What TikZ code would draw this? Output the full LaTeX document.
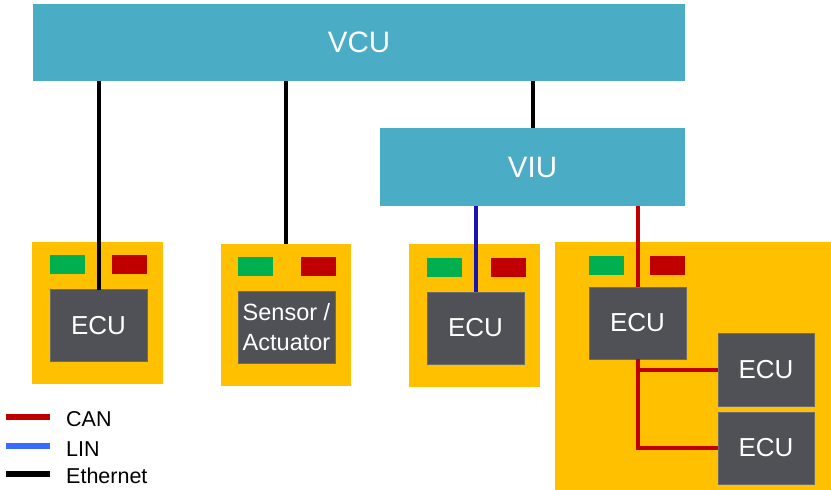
\documentclass[tikz,border=0pt]{standalone}
\usepackage{fontspec}
\setmainfont{Liberation Sans}
\usepackage{xcolor}
\usetikzlibrary{positioning}

\definecolor{unitblue}{HTML}{4BACC6}
\definecolor{domyellow}{HTML}{FFC000}
\definecolor{ecugrey}{HTML}{505156}
\definecolor{portgreen}{HTML}{00B050}
\definecolor{portred}{HTML}{C00000}
\definecolor{canred}{HTML}{C00000}
\definecolor{linblue}{HTML}{1A12B4}
\definecolor{linlegend}{HTML}{3A6BFF}

\begin{document}
\begin{tikzpicture}[
  x=1pt, y=-1pt,
  unit/.style={fill=unitblue, inner sep=0pt, outer sep=0pt, text=white, font=\fontsize{29.5}{34}\selectfont},
  dom/.style={fill=domyellow, inner sep=0pt, outer sep=0pt},
  ecu/.style={fill=ecugrey, draw=ecugrey!85!white, line width=0.6pt, inner sep=0pt, outer sep=0pt,
    minimum width=97pt, minimum height=72pt, text=white, align=center, font=\fontsize{26}{31}\selectfont},
  port/.style={inner sep=0pt, outer sep=0pt, minimum width=35pt, minimum height=19pt},
  eth/.style={line width=4pt, black},
  can/.style={line width=4pt, canred},
  lin/.style={line width=4pt, linblue},
  lgd/.style={font=\fontsize{21.5}{25}\selectfont, anchor=base west, inner sep=0pt}
]
\useasboundingbox (0,0) rectangle (831,490);

% control units
\node[unit, minimum width=652pt, minimum height=77pt] (vcu) at (359,42.5) {VCU};
\node[unit, minimum width=305pt, minimum height=78pt] (viu) at (532.5,167) {VIU};

% domains
\node[dom, minimum width=131pt, minimum height=142pt] (doma) at (97.5,313) {};
\node[dom, minimum width=130pt, minimum height=142pt] (domb) at (286,315) {};
\node[dom, minimum width=131pt, minimum height=143pt] (domc) at (474.5,315.5) {};
\node[dom, minimum width=276pt, minimum height=248pt] (domd) at (693,366) {};

% ports
\node[port, fill=portgreen] (grna) at (67.5,264.5) {};
\node[port, fill=portred] (reda) at (129.5,264.5) {};
\node[port, fill=portgreen] (grnb) at (255.5,266.5) {};
\node[port, fill=portred] (redb) at (318.5,266.5) {};
\node[port, fill=portgreen] (grnc) at (444,267) {};
\node[port, fill=portred] (redc) at (508.5,267) {};
\node[port, fill=portgreen] (grnd) at (606,265) {};
\node[port, fill=portred] (redd) at (667.5,265) {};

% ECUs
\node[ecu] (ecua) at (98.5,325.5) {ECU};
\node[ecu, font=\fontsize{23.5}{30}\selectfont] (sens) at (286.5,327.5) {Sensor /\\Actuator};
\node[ecu] (ecuc) at (475.5,328) {ECU};
\node[ecu] (ecud) at (637.5,323) {ECU};
\node[ecu, minimum width=96pt, minimum height=73pt] (ecue) at (766,369.5) {ECU};
\node[ecu, minimum width=96pt] (ecuf) at (766,448) {ECU};

% buses
\draw[eth] (vcu.south -| ecua.north) -- (ecua.north);
\draw[eth] (vcu.south -| domb.north) -- (domb.north);
\draw[eth] (vcu.south -| viu.north) -- (viu.north);
\draw[lin] (viu.south -| ecuc.north) -- (ecuc.north);
\draw[can] (viu.south -| ecud.north) -- (ecud.north);
\draw[can] (ecud.south) |- (ecuf.west);
\draw[can] (ecud.south |- ecue.west) -- (ecue.west);

% legend
\coordinate (lcan) at (6,416.5);
\coordinate (llin) at (6,446);
\coordinate (leth) at (6,473.5);
\draw[line width=6pt, canred] (lcan) -- ++(44,0);
\draw[line width=6pt, linlegend] (llin) -- ++(44,0);
\draw[line width=6pt, black] (leth) -- ++(44,0);
\node[lgd] (tcan) at (66,426.5) {CAN};
\node[lgd] (tlin) at (66,456.5) {LIN};
\node[lgd] (teth) at (66,483.5) {Ethernet};
\end{tikzpicture}
\end{document}
